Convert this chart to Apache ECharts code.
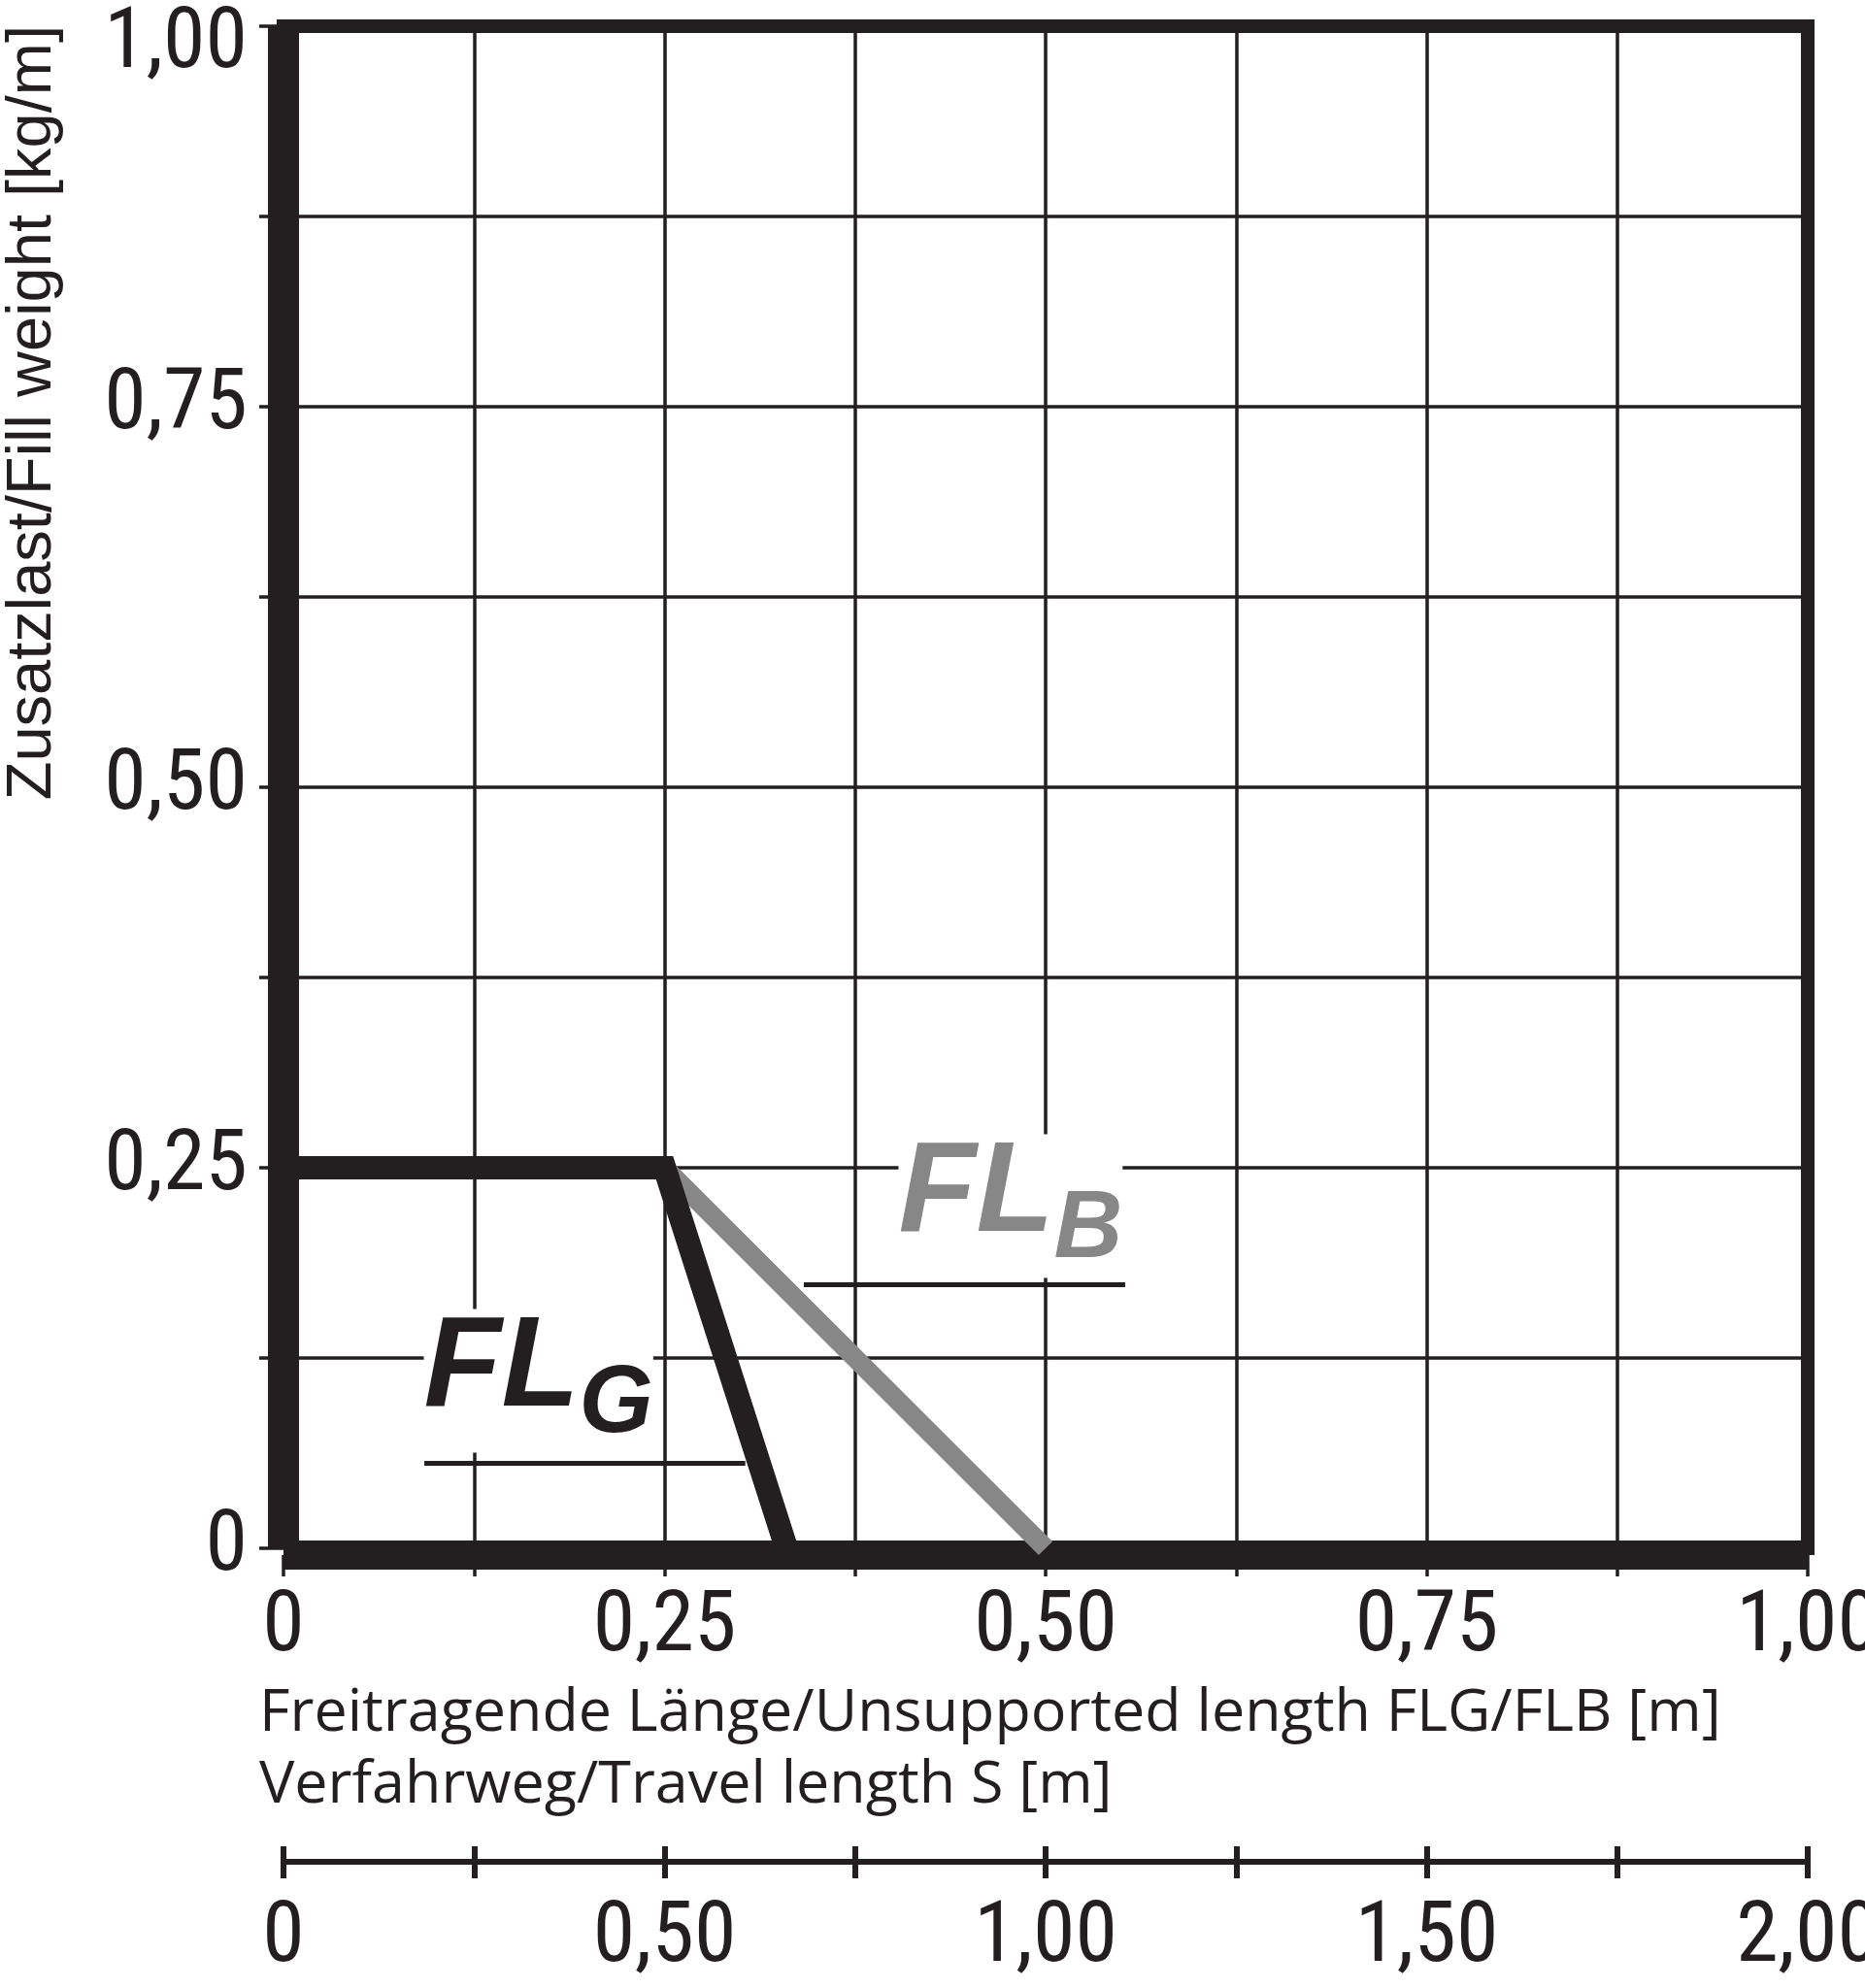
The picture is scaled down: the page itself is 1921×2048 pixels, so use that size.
<!DOCTYPE html>
<html>
<head>
<meta charset="utf-8">
<script src="https://cdn.jsdelivr.net/npm/echarts@6/dist/echarts.min.js"></script>
<style>html,body{margin:0;padding:0;background:#fff}#c{width:1921px;height:2048px}</style>
</head>
<body>
<div id="c"></div>
<script>
// ---- data ----
const flgX = [0, 0.25, 0.33];
const flgY = [0.25, 0.25, 0];
const flbX = [0.25, 0.5];
const flbY = [0.25, 0];
const yTickLabels = ['0', '0,25', '0,50', '0,75', '1,00'];
const xTickLabels = ['0', '0,25', '0,50', '0,75', '1,00'];
const sTickLabels = ['0', '0,50', '1,00', '1,50', '2,00'];
const yTitle = 'Zusatzlast/Fill weight [kg/m]';
const xTitle1 = 'Freitragende Länge/Unsupported length FLG/FLB [m]';
const xTitle2 = 'Verfahrweg/Travel length S [m]';

const INK = '#231f20';
const GRAY = '#878787';
const NUMFONT = "'Liberation Sans Narrow', 'Roboto Condensed', 'Liberation Sans', sans-serif";
const NUMSIZE = 88;

function fmt(labels, step, topShift) {
  return function (v) {
    const i = Math.round(v / step);
    if (!(Math.abs(v - i * step) < 1e-9 && labels[i] !== undefined)) return '';
    if (topShift && i === labels.length - 1) return '{t|' + labels[i] + '}';
    return labels[i];
  };
}
const pairs = (xs, ys) => xs.map((x, i) => [x, ys[i]]);

const numLabel = { fontFamily: NUMFONT, fontSize: NUMSIZE, color: INK, showMinLabel: true, showMaxLabel: true };
const thin = { color: INK, width: 3.5, cap: 'butt' };

function flLabel(sub, color) {
  const base = { fontFamily: "'Liberation Sans', Arial", fontWeight: 'bold', fontStyle: 'italic', color: color };
  return {
    show: true, position: [0, 0], align: 'left', verticalAlign: 'top',
    formatter: '{fl|FL}{sub|' + sub + '}', backgroundColor: '#fff', padding: 0,
    rich: {
      fl: Object.assign({ fontSize: 131, lineHeight: 148, padding: [0, 0, 22, 0] }, base),
      sub: Object.assign({ fontSize: 98, lineHeight: 54, verticalAlign: 'bottom' }, base)
    }
  };
}

const chart = echarts.init(document.getElementById('c'), null, { renderer: 'canvas' });
chart.setOption({
  animation: false,
  backgroundColor: '#fff',
  title: {
    text: xTitle1 + '\n' + xTitle2,
    left: 267, top: 1729, padding: 0,
    textStyle: { fontFamily: "'Open Sans', sans-serif", fontSize: 61, fontWeight: 'normal', color: INK, lineHeight: 74 }
  },
  graphic: [{
    type: 'text', x: 34, y: 26, rotation: Math.PI / 2,
    style: { text: yTitle, font: "65px 'Liberation Sans', Arial, sans-serif", fill: INK, align: 'right', verticalAlign: 'middle' }
  }],
  grid: [
    { left: 292, right: 59, top: 27, bottom: 453, outerBoundsMode: 'none', containLabel: false },
    { left: 292, right: 59, top: 1902, height: 16, outerBoundsMode: 'none', containLabel: false }
  ],
  xAxis: [
    {
      gridIndex: 0, type: 'value', min: 0, max: 1, interval: 0.125, position: 'bottom', offset: 7,
      axisLine: { show: true, onZero: false, lineStyle: { color: INK, width: 30, cap: 'butt' } },
      axisTick: { show: true, length: 22, lineStyle: thin },
      splitLine: { show: true, lineStyle: thin },
      axisLabel: Object.assign({ margin: 32, formatter: fmt(xTickLabels, 0.25) }, numLabel)
    },
    {
      gridIndex: 0, type: 'value', min: 0, max: 1, position: 'top',
      axisLine: { show: true, onZero: false, lineStyle: { color: INK, width: 14, cap: 'square' } },
      axisTick: { show: false }, axisLabel: { show: false }, splitLine: { show: false }
    },
    {
      gridIndex: 1, type: 'value', min: 0, max: 2, interval: 0.25, position: 'bottom',
      axisLine: { show: true, onZero: false, lineStyle: { color: INK, width: 6, cap: 'butt' } },
      axisTick: { show: true, length: 17, lineStyle: { color: INK, width: 6, cap: 'butt' } },
      splitLine: { show: true, lineStyle: { color: INK, width: 6, cap: 'butt' } },
      axisLabel: Object.assign({ margin: 36, formatter: fmt(sTickLabels, 0.5) }, numLabel)
    }
  ],
  yAxis: [
    {
      gridIndex: 0, type: 'value', min: 0, max: 1, interval: 0.125, position: 'left',
      axisLine: { show: true, onZero: false, lineStyle: { color: INK, width: 32, cap: 'butt' } },
      axisTick: { show: true, length: 25, lineStyle: thin },
      splitLine: { show: true, lineStyle: thin },
      axisLabel: Object.assign({
        margin: 37, formatter: fmt(yTickLabels, 0.25, true),
        rich: { t: { fontFamily: NUMFONT, fontSize: NUMSIZE, color: INK, padding: [40, 0, 0, 0] } }
      }, numLabel)
    },
    {
      gridIndex: 0, type: 'value', min: 0, max: 1, position: 'right',
      axisLine: { show: true, onZero: false, lineStyle: { color: INK, width: 14, cap: 'square' } },
      axisTick: { show: false }, axisLabel: { show: false }, splitLine: { show: false }
    },
    {
      gridIndex: 1, type: 'value', show: false
    }
  ],
  series: [
    {
      name: 'FLB', type: 'line', xAxisIndex: 0, yAxisIndex: 0, z: 3,
      data: pairs(flbX, flbY), symbol: 'none',
      lineStyle: { color: GRAY, width: 20, cap: 'butt', join: 'miter' },
      markPoint: {
        symbol: 'rect', symbolSize: 1, itemStyle: { color: 'rgba(0,0,0,0)' }, silent: true,
        data: [
          { coord: [0.4038, 0.2717], label: flLabel('B', GRAY) },
          { coord: [0.0924, 0.1569], label: flLabel('G', INK) }
        ]
      }
    },
    {
      name: 'FLG', type: 'line', xAxisIndex: 0, yAxisIndex: 0, z: 4,
      data: pairs(flgX, flgY), symbol: 'none',
      lineStyle: { color: INK, width: 24, cap: 'butt', join: 'miter' },
      markLine: {
        silent: true, symbol: ['none', 'none'], label: { show: false },
        lineStyle: { color: INK, width: 5, type: 'solid', cap: 'butt' },
        data: [
          [{ coord: [0.3414, 0.1735] }, { coord: [0.5522, 0.1735] }],
          [{ coord: [0.0924, 0.0561] }, { coord: [0.3030, 0.0561] }]
        ]
      }
    }
  ]
});
</script>
</body>
</html>
